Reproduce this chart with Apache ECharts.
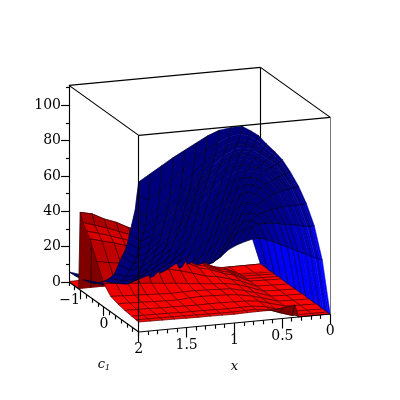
<!DOCTYPE html>
<html><head><meta charset="utf-8"><style>html,body{margin:0;background:#fff}#c{width:400px;height:400px}</style>
<script src="https://cdn.jsdelivr.net/npm/echarts@6/dist/echarts.min.js"></script></head>
<body><div id="c"></div><script>
const xTicks=[0,0.5,1,1.5,2], xLabels=['0','0.5','1','1.5','2'];
const cTicks=[-1,0], cLabels=['\u22121','0'];
const zTicks=[0,20,40,60,80,100], zLabels=['0','20','40','60','80','100'];
const xRange=[0,2], cRange=[-1.5,1.5], zRange=[0,111.4];

const blueX=[0,.083,.167,.25,.33,.42,.5,.58,.67,.75,.83,.92,1.04,1.16,1.28,1.4,1.52,1.64,1.76,1.88,2];
const blueC=[-1.5,-1.2,-.9,-.6,-.3,0,.24,.45,.63,.78,.9,1.02,1.11,1.2,1.275,1.35,1.425,1.5];
const blueZ=[
[0,0,0,0,0,0,0,0,0,0,0,0,0,0,0,0,0,0],
[14.6,17.9,20,21.5,22.8,24.1,25.3,26.1,26.9,27.7,28.2,28.7,29,29.5,29.9,30.2,30.7,31],
[13.5,24.8,29.3,32.3,35.3,37.9,39.8,41.6,43.1,44.3,45.4,46.1,46.9,47.6,48.4,49.1,50,51],
[12,23.4,31.8,37.5,42.2,46.3,49.4,52,54.1,55.7,57.2,58.3,59.3,60.4,61.1,61.9,63,64],
[10,21.5,31.1,39.4,46.5,52.2,56.7,59.9,62.5,64.4,66.3,67.6,68.9,70.2,70.8,71.8,72.7,74],
[6,15.2,27.6,38.3,48.4,56,61.4,66,69.1,71.8,73.8,75.3,76.8,78.4,79.2,80.3,81.5,83],
[3.3,9.4,20.6,34.5,47.5,57.9,64,69.2,73.5,77,79.2,81.3,83.1,84.4,85.7,87,88.3,90],
[2,6.7,16,29.9,43.9,55.9,64.3,70.8,75.5,79.2,82,84.3,86.2,88,89.4,90.8,92.7,95],
[1,5,11.9,24.8,38.6,52.5,62.4,70.3,76.2,80.2,84.2,87.1,89.1,91.1,93.1,95.1,97.5,100],
[.5,3.6,9.9,20.4,33.9,48.6,60,69.5,76.8,82,86.2,89.3,91.9,94.6,96.6,99.3,101.9,105],
[.4,3.1,9,17.6,29.4,43.4,55.3,66,74.6,81.1,85.4,89.7,92.9,95.6,98.3,101,104.2,108],
[.4,2.6,7.6,14.8,25.8,39.1,51.3,62.3,72.3,79,84.5,88.9,92.2,95.5,98.8,102.2,106,111],
[.4,2.1,5.9,12,21.4,33.6,44.6,55.7,65.6,73.4,79,84.5,88.9,92.2,96.1,100,105,111],
[.4,1.7,4.8,9.7,18,27.8,37.7,48.6,58.5,66.2,71.6,78.2,82.6,87,91.4,95.8,102.3,110],
[.4,1.5,4.1,7.9,14.3,22.9,31.5,41.1,50.7,58.2,64.7,71.1,76.4,80.7,86.1,91.4,98.9,107.5],
[.4,1.4,3.5,6.6,11.8,19,26.3,34.6,42.9,50.1,56.3,63.6,68.8,74,79.1,85.4,93.6,104],
[.4,1.4,2.9,5.4,9.4,15.9,22.4,29.4,36.4,43.4,49.4,56.5,62.5,67.5,72.5,79.5,88.5,100.5],
[.8,1.8,3.2,5.1,8.5,13.8,19.1,24.9,31.6,38.3,44.1,50.8,56.6,61.4,67.2,73.9,83.5,97],
[.6,1.5,2.4,4.3,7.1,11.7,16.3,20.9,27.4,32.9,38.5,44.9,50.5,56,61.6,68,78.2,93],
[3.5,4.4,5.2,6.9,9.1,12.9,16.8,21,26.2,31.3,36,42,47.1,52.2,57.4,63.4,73.6,89],
[5.7,6.1,7,8.3,10.5,14.5,18.5,23,30,36,40,46,52,58,63,68,77,85]];

const redX=[0,.17,.33,.37,.5,.6,.75,.86,1,1.125,1.25,1.375,1.5,1.625,1.75,1.875,2];
const redC=[-1.5,-1.08,-1.02,-.9,-.75,-.6,-.3,0,.3,.6,.9,1.2,1.38,1.5];
const redZ=[
[0,0,0,0,0,0,0,0,0,0,0,0,0,0],
[0,0,.2,.2,.2,.2,.2,.2,.2,.2,.2,.2,0,0],
[0,.1,.5,.5,.5,.5,.5,.5,.5,.5,.5,.4,0,0],
[0,.2,1.5,1.4,1.3,1.3,1.2,1.2,1.2,1.1,1.1,1,0,7],
[0,.3,4.9,4.9,4.8,4.8,4.2,3.8,3.4,3.2,3.1,2.5,2.2,6],
[0,.3,6,6.1,6.2,6.1,5.8,5.5,4.9,4.7,4.6,4.4,4.2,5.3],
[.1,.3,10,9.8,9.6,9.3,8,7,6.8,6.2,5.5,5.4,5.3,5.3],
[.1,.3,12.5,11.4,11,10.6,8.8,7.2,7,6.7,5.6,5.3,5.2,5.2],
[.2,.3,18,16.7,15.7,14.7,11.2,8.1,7.3,7,5.8,5.2,5,5],
[.2,.3,22.5,20.1,18.7,17.5,13.1,8.8,7.6,7.2,5.8,5.3,5.1,5.1],
[.2,.3,26,23.6,21.8,20.2,14.8,9.6,7.5,7,5.7,5.5,5.2,5.2],
[.2,.3,30,26.7,24.5,22.7,16.3,10.2,7.3,6.4,5.8,5.5,5.3,5.2],
[.3,.3,33,29.8,27.3,25.2,17.9,10.9,7.6,6.6,6,5.6,5.4,5.3],
[.3,.3,36.5,32.4,29.6,27.2,19.3,11.5,7.9,6.8,6.1,5.8,5.5,5.4],
[.3,.3,39,35,31.9,29.4,20.7,12.1,8.2,7.1,6.3,5.9,5.6,5.5],
[.3,.3,42.5,37.2,34,31.1,21.7,12.7,8.5,7.3,6.4,6,5.7,5.6],
[.3,.3,44,39.4,35.9,33,22.9,13.2,8.8,7.5,6.6,6.1,5.8,5.7]];

const norm=(v,r)=>(v-r[0])/(r[1]-r[0]);
function project(x,c,z){
  const f=norm(c,cRange);
  return [260.5-95.75*x+69.75*f, 264+9*x+50*f-1.765*z];
}
const blueSkipRows=[8,10,12,13,15,16];
function quadsOf(xs,cs,zs,kind){
  const out=[];
  for(let i=0;i<xs.length-1;i++)for(let j=0;j<cs.length-1;j++){
    const v=[[i,j],[i+1,j],[i+1,j+1],[i,j+1]].map(([a,b])=>[xs[a],cs[b],zs[a][b]]);
    const nx=v.map(p=>[norm(p[0],xRange),norm(p[1],cRange),norm(p[2],zRange)]);
    const ux=[nx[2][0]-nx[0][0],nx[2][1]-nx[0][1],nx[2][2]-nx[0][2]];
    const uy=[nx[3][0]-nx[1][0],nx[3][1]-nx[1][1],nx[3][2]-nx[1][2]];
    let n=[ux[1]*uy[2]-ux[2]*uy[1],ux[2]*uy[0]-ux[0]*uy[2],ux[0]*uy[1]-ux[1]*uy[0]];
    const len=Math.hypot(...n)||1; n=n.map(a=>a/len); if(n[2]<0)n=n.map(a=>-a);
    const facing=.358*n[0]+n[1]+.287*n[2];
    const zx=(nx[1][2]+nx[2][2]-nx[0][2]-nx[3][2])/2/(nx[1][0]-nx[0][0]);
    let s, cLine=true, xLine=true;
    if(kind==='blue'){
      s=.48+.52*Math.max(0,Math.min(1,(zx-1.5)/3.5));
      if(xs[i]<1.16&&blueSkipRows.includes(j))cLine=false;
    }else{
      s=facing<0?.5:.4+.6*n[2]*n[2];
      if(j===1)cLine=false;
      if(i===3&&j<11)xLine=false;
    }
    const depth=nx.reduce((d,p)=>d+.358*p[0]+p[1]+.287*p[2],0)/4;
    const lvl=Math.round(255*s);
    out.push({v,depth,cLine,xLine,fill:kind==='blue'?`rgb(0,0,${lvl})`:`rgb(${lvl},0,0)`});
  }
  return out;
}
const quads=quadsOf(blueX,blueC,blueZ,'blue').concat(quadsOf(redX,redC,redZ,'red')).sort((a,b)=>a.depth-b.depth);

const snap=a=>Math.floor(a)+.5;
const line=(api,a,b,w,col)=>{let p=api.coord(a),q=api.coord(b);
  if(Math.abs(p[0]-q[0])<.01){p=[snap(p[0]),p[1]];q=[p[0],q[1]];}
  if(Math.abs(p[1]-q[1])<.01){p=[p[0],snap(p[1])];q=[q[0],p[1]];}
  return {type:'line',shape:{x1:p[0],y1:p[1],x2:q[0],y2:q[1]},style:{stroke:col||'#000',lineWidth:w||1.15},silent:true};};
const text=(api,str,pt,font,align)=>{const p=api.coord(pt);
  return {type:'text',style:{text:str,x:p[0],y:p[1],font,fill:'#000',textAlign:align||'center',textVerticalAlign:'middle'},silent:true};};
const [x0,x1]=xRange,[c0,c1]=cRange,[z0,z1]=zRange;

function backBox(params,api){
  return {type:'group',children:[
    line(api,project(x0,c0,z0),project(x0,c0,z1)),
    line(api,project(x0,c0,z0),project(x1,c0,z0)),
    line(api,project(x0,c0,z0),project(x0,c1,z0)),
    line(api,project(x0,c0,z1),project(x1,c0,z1)),
    line(api,project(x0,c0,z1),project(x0,c1,z1)),
    line(api,project(x1,c0,z0),project(x1,c0,z1))
  ]};
}
function surface(params,api){
  const q=quads[params.dataIndex];
  const pts=q.v.map(p=>api.coord(project(p[0],p[1],p[2])));
  const mesh={stroke:'rgba(0,0,0,0.72)',lineWidth:.65};
  const ch=[{type:'polygon',silent:true,shape:{points:pts},style:{fill:q.fill,stroke:q.fill,lineWidth:.5}}];
  const seg=(a,b)=>({type:'line',silent:true,shape:{x1:a[0],y1:a[1],x2:b[0],y2:b[1]},style:mesh});
  if(q.cLine){ch.push(seg(pts[0],pts[1]));ch.push(seg(pts[3],pts[2]));}
  if(q.xLine){ch.push(seg(pts[0],pts[3]));}
  ch.push(seg(pts[1],pts[2]));
  return {type:'group',children:ch};
}
const F='14px "DejaVu Serif"';
function frontBox(params,api){
  const ch=[
    line(api,project(x1,c1,z0),project(x1,c1,z1)),
    line(api,project(x0,c1,z0),project(x0,c1,z1),1,'#777'),
    line(api,project(x1,c0,z1),project(x1,c1,z1)),
    line(api,project(x1,c1,z1),project(x0,c1,z1)),
    line(api,project(x1,c0,z0),project(x1,c1,z0)),
    line(api,project(x1,c1,z0),project(x0,c1,z0))
  ];
  for(let t=0;t<=20;t++){ const v=t/10, major=t%5===0, p=project(v,c1,z0);
    ch.push(line(api,p,[p[0],p[1]+(major?10:4)])); }
  xTicks.forEach((v,i)=>{const p=project(v,c1,z0);ch.push(text(api,xLabels[i],[p[0],p[1]+17.5],F));});
  for(let t=0;t<=12;t++){ const v=c0+t*.25, p=project(x1,v,z0), major=cTicks.includes(v);
    ch.push(line(api,p,[p[0],p[1]+(major?9:4)])); }
  cTicks.forEach((v,i)=>{const p=project(x1,v,z0);
    ch.push(text(api,cLabels[i],v<0?[p[0]-11,p[1]+10]:[p[0],p[1]+17],F));});
  for(let t=0;t<=11;t++){ const v=t*10, major=t%2===0, p=project(x1,c0,v);
    ch.push(line(api,p,[p[0]-(major?8:3),p[1]])); }
  zTicks.forEach((v,i)=>{const p=project(x1,c0,v);ch.push(text(api,zLabels[i],[p[0]-8,p[1]],F,'right'));});
  const m=project((x0+x1)/2,c1,z0);
  ch.push(text(api,'x',[m[0],m[1]+44],'italic 13px "DejaVu Serif"'));
  const lab=api.coord([104,365]);
  ch.push({type:'text',silent:true,style:{x:lab[0],y:lab[1],textAlign:'center',textVerticalAlign:'middle',
    text:'{a|c}{b|1}',rich:{a:{font:'italic 13px "DejaVu Serif"',fill:'#000'},b:{font:'italic 8px "DejaVu Serif"',fill:'#000',verticalAlign:'bottom',padding:[6,0,0,0]}}}});
  return {type:'group',children:ch};
}
const chart=echarts.init(document.getElementById('c'),null,{renderer:'canvas',width:400,height:400});
chart.setOption({
  animation:false,backgroundColor:'#fff',
  grid:{left:0,right:0,top:0,bottom:0},
  xAxis:{type:'value',min:0,max:400,show:false},
  yAxis:{type:'value',min:0,max:400,inverse:true,show:false},
  series:[
    {type:'custom',coordinateSystem:'cartesian2d',clip:false,data:[[0,0]],renderItem:backBox,z:1},
    {type:'custom',coordinateSystem:'cartesian2d',clip:false,data:quads.map((q,i)=>[i,0]),renderItem:surface,z:2,progressive:0},
    {type:'custom',coordinateSystem:'cartesian2d',clip:false,data:[[0,0]],renderItem:frontBox,z:3}
  ]
});
</script></body></html>
